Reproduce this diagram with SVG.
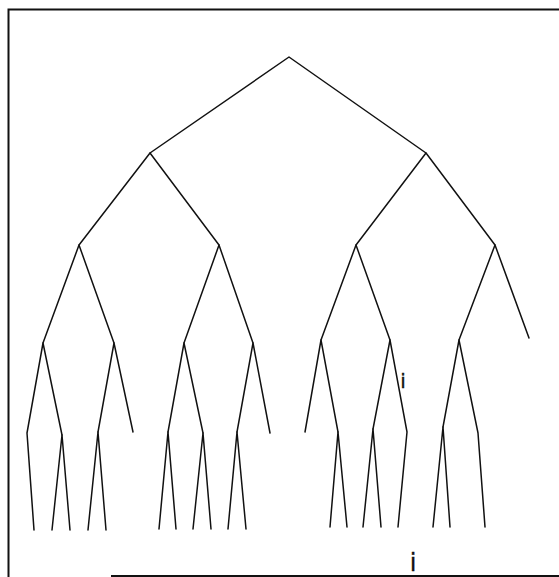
<svg xmlns="http://www.w3.org/2000/svg" width="559" height="577" viewBox="0 0 559 577">
<style>
.e{stroke:#111;stroke-width:1.5;fill:none;stroke-linecap:round;stroke-linejoin:round}
.f{stroke:#111;stroke-width:2;fill:none}
.m{font-family:"DejaVu Sans","Liberation Sans",sans-serif;fill:#111;stroke:#111;stroke-width:0.3}
</style>
<rect width="559" height="577" fill="#fff"/>
<g id="frame">
<polyline class="f" points="559,9.5 8.5,9.5 8.5,577"/>
<line class="f" x1="111" y1="576" x2="559" y2="576"/>
</g>
<g id="connectors">
<polyline class="e" points="150,153 289,57 426,153"/>
<polyline class="e" points="79,245 150,153 219,245"/>
<polyline class="e" points="356,245 426,153 495,245"/>
<polyline class="e" points="43,343 79,245 114,343"/>
<polyline class="e" points="184,343 219,245 253,343"/>
<polyline class="e" points="321,340 356,245 390,340"/>
<polyline class="e" points="459,340 495,245 529,338"/>
<polyline class="e" points="34,530 27,433 43,343 62,435"/>
<polyline class="e" points="52,530 62,435 70,530"/>
<polyline class="e" points="98,432 114,343 133,432"/>
<polyline class="e" points="88,530 98,432 106,530"/>
<polyline class="e" points="168,432 184,343 203,433"/>
<polyline class="e" points="159,529 168,432 176,529"/>
<polyline class="e" points="193,529 203,433 211,529"/>
<polyline class="e" points="237,432 253,343 270,433"/>
<polyline class="e" points="228,529 237,432 246,529"/>
<polyline class="e" points="305,432 321,340 338,432"/>
<polyline class="e" points="330,527 338,432 347,527"/>
<polyline class="e" points="373,429 390,340 407,432 398,527"/>
<polyline class="e" points="363,527 373,429 381,527"/>
<polyline class="e" points="443,427 459,340 478,433 485,527"/>
<polyline class="e" points="433,527 443,427 450,527"/>
</g>
<g id="marks">
<text class="m" x="403" y="388" font-size="20" text-anchor="middle">i</text>
<text class="m" x="413" y="571" font-size="24" text-anchor="middle">i</text>
</g>
</svg>
